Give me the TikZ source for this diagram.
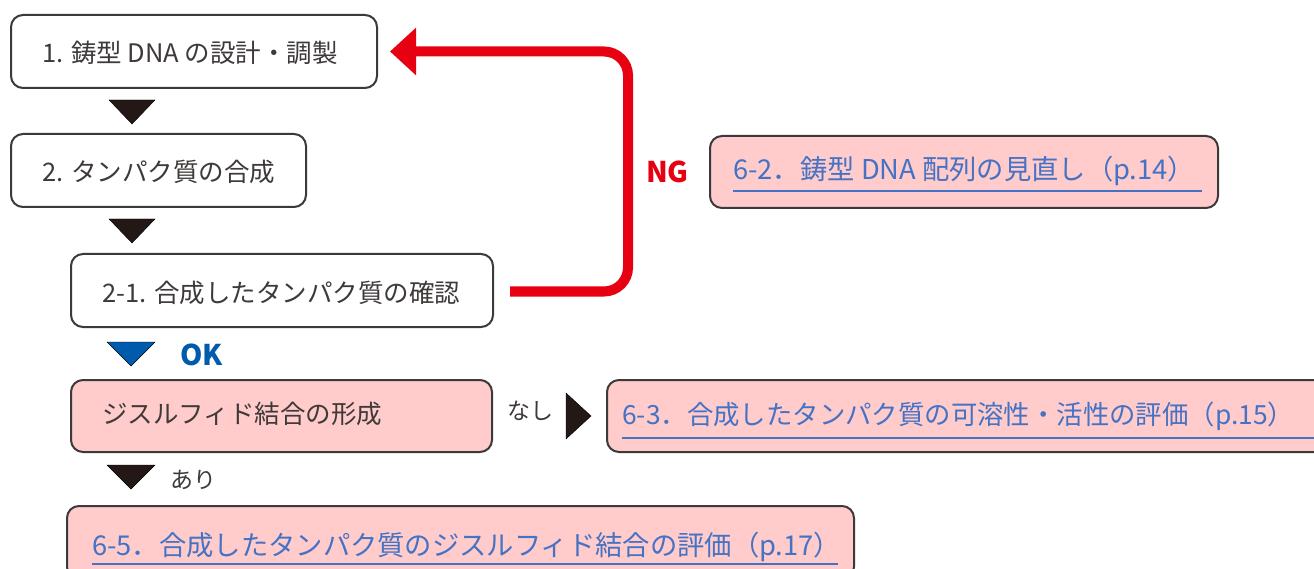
\documentclass[tikz,border=0pt]{standalone}
\usepackage{fontspec}
\setmainfont{Noto Sans CJK JP}
\usetikzlibrary{arrows.meta,calc}
\definecolor{pinkfill}{HTML}{FFCBCB}
\definecolor{edge}{HTML}{3A3A3A}
\definecolor{linkblue}{HTML}{4472C4}
\definecolor{ngred}{HTML}{E60012}
\definecolor{okblue}{HTML}{005BAC}
\definecolor{ink}{HTML}{231815}
\definecolor{txtgray}{HTML}{3E3A39}
\begin{document}
\begin{tikzpicture}[x=1pt,y=-1pt,
  box/.style={draw=edge, line width=2pt, rounded corners=12pt, fill=white, anchor=north west, inner sep=0pt},
  pinkbox/.style={box, fill=pinkfill},
  steptext/.style={anchor=west, inner sep=0pt, text=txtgray, font=\fontsize{25.5}{30}\selectfont},
  linktext/.style={anchor=west, inner sep=0pt, text=linkblue, font=\fontsize{27.3}{32}\selectfont},
  uline/.style={draw=linkblue, line width=2pt},
  flowtri/.style={fill=ink},
  ngline/.style={draw=ngred, line width=10pt, rounded corners=24pt, -{Triangle[width=46pt,length=26pt]}},
  tag/.style={anchor=west, inner sep=0pt, font=\fontsize{23}{28}\selectfont, text=txtgray},
  bigtag/.style={anchor=west, inner sep=0pt, font=\bfseries\fontsize{28.5}{32}\selectfont}
]
\useasboundingbox (0,0) rectangle (1314,569);
\clip (0,0) rectangle (1314,569);

% boxes
\node[box, minimum width=366pt, minimum height=73pt] (b1) at (10,14) {};
\node[box, minimum width=295pt, minimum height=73pt] (b2) at (10,133) {};
\node[box, minimum width=422pt, minimum height=73pt] (b3) at (70,253) {};
\node[pinkbox, minimum width=421pt, minimum height=72pt] (b4) at (70,379) {};
\node[pinkbox, minimum width=508pt, minimum height=72pt] (b62) at (709,135) {};
\node[pinkbox, minimum width=730pt, minimum height=72pt] (b63) at (606,379) {};
\node[pinkbox, minimum width=787pt, minimum height=73pt] (b65) at (66,505) {};

% texts
\node[steptext] (t1) at ($(b1.west)+(32,1)$) {1. 鋳型 DNA の設計・調製};
\node[steptext] (t2) at ($(b2.west)+(32,1)$) {2. タンパク質の合成};
\node[steptext] (t3) at ($(b3.west)+(32,2)$) {2-1. 合成したタンパク質の確認};
\node[steptext] (t4) at ($(b4.west)+(32,-2)$) {ジスルフィド結合の形成};
\node[linktext] (t62) at ($(b62.west)+(24,-1)$) {6-2．鋳型 DNA 配列の見直し（p.14）};
\node[linktext, font=\fontsize{26.4}{31}\selectfont] (t63) at ($(b63.west)+(16,0)$) {6-3．合成したタンパク質の可溶性・活性の評価（p.15）};
\node[linktext] (t65) at ($(b65.west)+(26,4)$) {6-5．合成したタンパク質のジスルフィド結合の評価（p.17）};

% underlines
\draw[uline] ($(b62.south west)+(24,-18)$) -- ($(b62.south east)+(-17,-18)$);
\draw[uline] ($(b63.south west)+(16,-15)$) -- ($(b63.south east)+(0,-15)$);
\draw[uline] ($(b65.south west)+(26,-16)$) -- ($(b65.south east)+(-17,-16)$);

% flow triangles
\coordinate (a1) at ($(b1.south west)+(122,23)$);
\draw[flowtri] ($(a1)+(-23,-12)$) -- ($(a1)+(23,-12)$) -- ($(a1)+(0,12)$) -- cycle;
\coordinate (a2) at ($(b2.south west)+(122,23)$);
\draw[flowtri] ($(a2)+(-23,-12)$) -- ($(a2)+(23,-12)$) -- ($(a2)+(0,12)$) -- cycle;
\coordinate (a3) at ($(b3.south west)+(61,26)$);
\draw[fill=okblue] ($(a3)+(-24,-12)$) -- ($(a3)+(24,-12)$) -- ($(a3)+(0,12)$) -- cycle;
\node[bigtag, text=okblue] (ok) at ($(a3)+(49,1)$) {OK};
\coordinate (a4) at ($(b4.south west)+(61,24)$);
\draw[flowtri] ($(a4)+(-24,-12)$) -- ($(a4)+(24,-12)$) -- ($(a4)+(0,12)$) -- cycle;
\node[tag] (ari) at ($(a4)+(39,3)$) {あり};
\coordinate (a5) at ($(b4.east)+(85,0)$);
\draw[flowtri] ($(a5)+(-12,-23)$) -- ($(a5)+(13,0)$) -- ($(a5)+(-12,23)$) -- cycle;
\node[tag] (nashi) at ($(b4.east)+(14,-5)$) {なし};

% NG loop
\coordinate (ngstart) at ($(b3.east)+(16,1)$);
\coordinate (ngend) at ($(b1.east)+(12,0)$);
\draw[ngline] (ngstart) -- ++(118,0) |- (ngend);
\node[bigtag, text=ngred] (ng) at (646,172) {NG};
\end{tikzpicture}
\end{document}
